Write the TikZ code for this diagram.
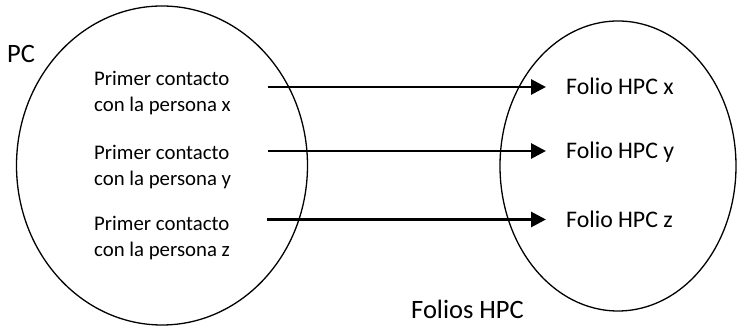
\documentclass[tikz,border=0pt]{standalone}
\usepackage{fontspec}
\setmainfont{Carlito}
\usetikzlibrary{positioning}
\usetikzlibrary{arrows.meta}
\usetikzlibrary{shapes.geometric}

\begin{document}
\begin{tikzpicture}[x=1pt, y=1pt,
        conjunto/.style={draw, ellipse, line width=1.3pt, inner sep=0pt},
        contacto/.style={align=left, anchor=west, inner sep=0pt,
                         font=\fontsize{20.8}{26}\selectfont},
        folio/.style={anchor=west, inner sep=0pt, text height=15.3pt, text depth=0pt,
                      font=\fontsize{23.8}{28}\selectfont},
        titulo/.style={inner sep=0pt, font=\fontsize{26.5}{30}\selectfont},
        flecha/.style={-{Triangle[length=15pt,width=15pt]}, line width=2.9pt,
                       shorten <=37pt, shorten >=20pt}]
    \useasboundingbox (0,0) rectangle (737,326);
    \node[conjunto, minimum width=291pt, minimum height=319pt] (pc) at (162,160.5) {};
    \node[conjunto, minimum width=236pt, minimum height=290pt] (hpc) at (618,160) {};
    \node[titulo] (pclabel) at (21,272.5) {PC};
    \node[titulo] (hpclabel) at (467.5,17) {Folios HPC};
    \node[contacto] (p1) at (94,232.5) {Primer contacto\\con la persona x};
    \node[contacto] (p2) at (94,159) {Primer contacto\\con la persona y};
    \node[contacto] (p3) at (94,88) {Primer contacto\\con la persona z};
    \node[folio] (f1) at (566,239) {Folio HPC x};
    \node[folio] (f2) at (566,175) {Folio HPC y};
    \node[folio] (f3) at (566,106.5) {Folio HPC z};
    \draw[flecha] (p1.east |- f1.west) -- (f1.west);
    \draw[flecha] (p2.east |- f2.west) -- (f2.west);
    \draw[flecha] (p3.east |- f3.west) -- (f3.west);
\end{tikzpicture}
\end{document}
